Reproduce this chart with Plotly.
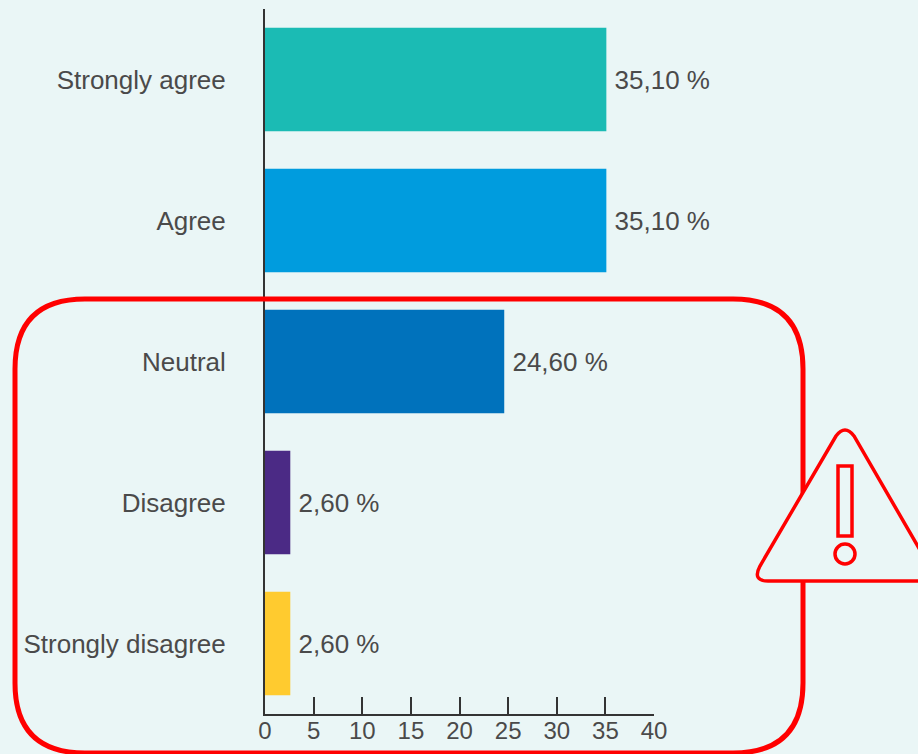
import plotly.graph_objects as go

categories = ["Strongly agree", "Agree", "Neutral", "Disagree", "Strongly disagree"]
values = [35.1, 35.1, 24.6, 2.6, 2.6]
value_labels = ["35,10 %", "35,10 %", "24,60 %", "2,60 %", "2,60 %"]
bar_colors = ["#1BBBB4", "#009CDE", "#0072BC", "#4B2A85", "#FFCB2F"]
tick_values = [0, 5, 10, 15, 20, 25, 30, 35, 40]

W, H = 918, 754
L, R, T, B = 265, 654, 9, 714
BG = "#EAF6F6"
FONT = "Liberation Sans"
TXT = "#4A4A4A"
RED = "#FF0000"


def px(x):
    return (x - L) / (R - L)


def py(y):
    return (B - y) / (B - T)


def path(cmds):
    out = []
    for c in cmds:
        if isinstance(c, str):
            out.append(c)
        else:
            out.append(f"{px(c[0]):.5f},{py(c[1]):.5f}")
    return " ".join(out)


frame = path(["M", (85, 299), "L", (733, 299), "Q", (803, 299), (803, 369),
              "L", (803, 683), "Q", (803, 753), (733, 753),
              "L", (85, 753), "Q", (15, 753), (15, 683),
              "L", (15, 369), "Q", (15, 299), (85, 299), "Z"])
triangle = path(["M", (836, 436), "Q", (845, 424), (854, 436),
                 "L", (938, 581), "L", (768, 581), "Q", (752, 581), (760, 566), "Z"])
bang = path(["M", (838, 466), "L", (852, 466), "L", (852, 536), "L", (838, 536), "Z"])

fig = go.Figure(go.Bar(
    x=values, y=categories, orientation="h",
    marker=dict(color=bar_colors, line=dict(width=0)),
    width=0.735,
    text=["\u2009" + t for t in value_labels], textposition="outside", cliponaxis=False,
    textfont=dict(family=FONT, size=26, color=TXT),
))

fig.update_layout(
    width=W, height=H, autosize=False,
    margin=dict(l=L, r=W - R, t=T, b=H - B, pad=0, autoexpand=False),
    paper_bgcolor=BG, plot_bgcolor=BG,
    showlegend=False,
    font=dict(family=FONT, size=24, color=TXT),
    xaxis=dict(range=[0, 40], tickmode="array", tickvals=tick_values,
               ticks="inside", ticklen=17, tickwidth=2, tickcolor="#333333",
               showline=True, linecolor="#333333", linewidth=2,
               showgrid=False, zeroline=False, automargin=False,
               ticklabelstandoff=-6,
               tickfont=dict(family=FONT, size=24, color=TXT)),
    yaxis=dict(autorange="reversed", ticks="", showgrid=False, zeroline=False,
               showline=True, linecolor="#333333", linewidth=2, automargin=False,
               ticklabelstandoff=32, layer="below traces",
               tickfont=dict(family=FONT, size=26, color=TXT)),
    shapes=[
        dict(type="path", xref="paper", yref="paper", path=frame,
             line=dict(color=RED, width=5), fillcolor="rgba(0,0,0,0)"),
        dict(type="path", xref="paper", yref="paper", path=triangle,
             line=dict(color=RED, width=3.5), fillcolor=BG),
        dict(type="path", xref="paper", yref="paper", path=bang,
             line=dict(color=RED, width=3.5), fillcolor=BG),
        dict(type="circle", xref="paper", yref="paper",
             x0=px(835), x1=px(855), y0=py(564), y1=py(544),
             line=dict(color=RED, width=3.5), fillcolor=BG),
    ],
)

fig.write_html("out.html", config=dict(displayModeBar=False),
               post_script="document.body.style.margin='0';document.body.style.overflow='hidden';")
